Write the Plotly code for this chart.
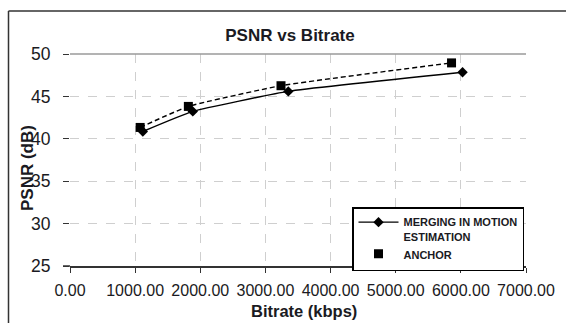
import plotly.graph_objects as go

# Data
merge_x = [1118, 1885, 3351, 6026]
merge_y = [40.86, 43.23, 45.59, 47.84]
anchor_x = [1077, 1817, 3239, 5857]
anchor_y = [41.34, 43.82, 46.26, 48.95]
x_ticks = [0, 1000, 2000, 3000, 4000, 5000, 6000, 7000]
y_ticks = [25, 30, 35, 40, 45, 50]

W, H = 566, 323
L, R, T, B = 70, 40, 54, 57
PW, PH = W - L - R, H - T - B

def px(xp):
    return (xp - L) / PW

def py(yp):
    return (H - B - yp) / PH

FONT = "Liberation Sans, Arial, sans-serif"
INK = "#1a1a22"

fig = go.Figure()
fig.add_trace(go.Scatter(
    x=merge_x, y=merge_y, mode="lines+markers",
    name="<b>MERGING IN MOTION<br>ESTIMATION</b>",
    line=dict(color="black", width=1.4, shape="spline", smoothing=0.4),
    marker=dict(symbol="diamond", size=8, color="black"),
))
fig.add_trace(go.Scatter(
    x=anchor_x, y=anchor_y, mode="lines", showlegend=False,
    line=dict(color="black", width=1.4, dash="5px,3px", shape="spline", smoothing=0.4),
    hoverinfo="skip",
))
fig.add_trace(go.Scatter(
    x=anchor_x, y=anchor_y, mode="markers", name="<b>ANCHOR</b>",
    marker=dict(symbol="square", size=9, color="black"),
))

fig.update_layout(
    width=W, height=H,
    margin=dict(l=L, r=R, t=T, b=B),
    paper_bgcolor="white", plot_bgcolor="white",
    font=dict(family=FONT, color=INK),
    title=dict(text="<b>PSNR vs Bitrate</b>", font=dict(size=17, color=INK),
               x=290 / W, xref="container", xanchor="center",
               y=1 - 35 / H, yref="container", yanchor="middle"),
    xaxis=dict(range=[0, 7000], tickvals=x_ticks, tickformat=".2f", tickangle=0,
               showgrid=True, gridcolor="#cfcfcf", griddash="dash", gridwidth=1,
               zeroline=True, zerolinecolor="rgba(0,0,0,0)",
               showline=True, linecolor="#333", linewidth=1.5,
               ticks="outside", ticklen=5, tickcolor="#333", tickwidth=1,
               tickfont=dict(size=16, color=INK), ticklabelstandoff=4,
               fixedrange=True),
    yaxis=dict(range=[25, 50], tickvals=y_ticks,
               showgrid=True, gridcolor="#cfcfcf", griddash="dash", gridwidth=1,
               zeroline=False, showline=False,
               ticks="outside", ticklen=6, tickcolor="#333", tickwidth=1,
               tickfont=dict(size=17.5, color=INK), ticklabelstandoff=9,
               fixedrange=True),
    legend=dict(x=px(352), y=py(207), xanchor="left", yanchor="top",
                bgcolor="white", bordercolor="black", borderwidth=1.5,
                font=dict(size=11, color=INK, family=FONT),
                valign="top", tracegroupgap=2, itemwidth=40),
    showlegend=True,
    annotations=[
        dict(text="<b>Bitrate (kbps)</b>", x=px(304), y=py(311), xref="paper", yref="paper",
             xanchor="center", yanchor="middle", showarrow=False,
             font=dict(size=16.5, color=INK)),
        dict(text="<b>PSNR (dB)</b>", x=px(27), y=py(168), xref="paper", yref="paper",
             xanchor="center", yanchor="middle", showarrow=False, textangle=-90,
             font=dict(size=17, color=INK)),
    ],
    shapes=[
        dict(type="line", xref="paper", yref="paper", x0=0, x1=1, y0=1, y1=1,
             line=dict(color="#9a9a9a", width=1.5)),
        dict(type="line", xref="paper", yref="paper", x0=px(63), x1=0, y0=0, y1=0,
             line=dict(color="#333", width=1.5)),
        dict(type="line", xref="paper", yref="paper", x0=px(8.5), x1=px(8.5),
             y0=py(11), y1=py(330), line=dict(color="#333", width=1.5)),
        dict(type="line", xref="paper", yref="paper", x0=px(8.5), x1=px(570),
             y0=py(11), y1=py(11), line=dict(color="#333", width=1.5)),
    ],
)

fig.write_html("out.html")
